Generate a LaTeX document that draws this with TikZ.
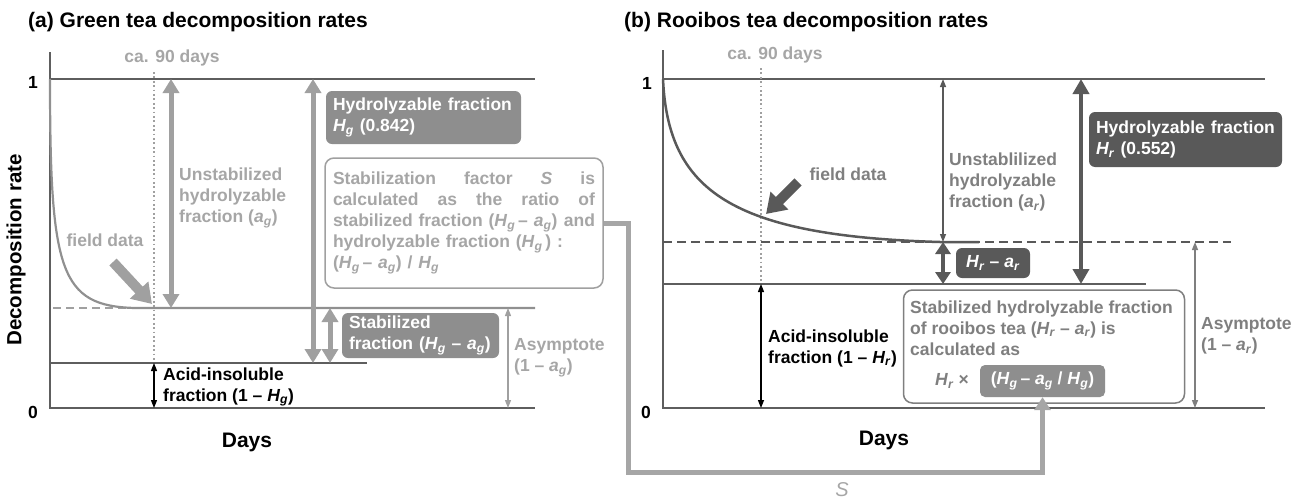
\documentclass[tikz,border=0pt]{standalone}
\usepackage{fontspec}
\setmainfont{Liberation Sans}
\usetikzlibrary{arrows.meta}

\definecolor{axisc}{HTML}{5E5E5E}
\definecolor{lgray}{HTML}{A0A0A0}
\definecolor{ltxt}{HTML}{A6A6A6}
\definecolor{boxA}{HTML}{8E8E8E}
\definecolor{dgray}{HTML}{595959}
\definecolor{mtxt}{HTML}{7F7F7F}

% italic variable with italic subscript
\newcommand{\iv}[2]{\textit{#1}\textsubscript{\textit{#2}}}
% one justified line of the stabilization-factor text
\newcommand{\jline}[1]{\leavevmode\hbox to 262pt{#1}}

\tikzset{
  lbl/.style={inner sep=0pt, font=\fontsize{17.5}{21}\selectfont\bfseries},
  bigl/.style={inner sep=0pt, font=\fontsize{21}{25}\selectfont\bfseries},
  axisline/.style={draw=axisc, line width=1.5pt},
  fbox/.style={lbl, rounded corners=6pt, text=white, align=left, inner xsep=7pt},
  obox/.style={lbl, draw=#1, line width=1.5pt, fill=white, rounded corners=9pt},
  thickL/.style={draw=lgray, line width=5pt,
    {Triangle[width=16pt,length=14pt]}-{Triangle[width=16pt,length=14pt]}},
  thickD/.style={draw=dgray, line width=4.5pt,
    {Triangle[width=16pt,length=15pt]}-{Triangle[width=16pt,length=15pt]}},
  thinA/.style={draw=#1, line width=1.3pt,
    {Triangle[width=6pt,length=8pt]}-{Triangle[width=6pt,length=8pt]}},
  blockarrow/.style={draw=#1, line width=10pt, -{Triangle[width=24pt,length=19pt]}},
  dottedv/.style={draw=lgray, line width=1.8pt, dash pattern=on 1.8pt off 2.6pt},
}

\begin{document}
\begin{tikzpicture}[x=1pt,y=-1pt]
\useasboundingbox (0,0) rectangle (1304,501);

% ================= (a) green tea =================
\node[bigl, anchor=west] (titleA) at (28,22) {(a) Green tea decomposition rates};
\node[bigl, rotate=90, font=\fontsize{20.5}{24}\selectfont\bfseries] (ylab) at (16,250) {Decomposition rate};
\node[lbl] (oneA) at (33,82) {1};
\node[lbl] (zeroA) at (33,412) {0};

% axes and reference levels
\draw[axisline] (50,52) -- (50,408) -- (535,408);
\draw[axisline] (50,79) -- (535,79);
\draw[axisline] (50,363) -- (367,363);
\draw[draw=lgray, line width=1.8pt, dash pattern=on 8pt off 5pt] (53,308) -- (535,308);

% decay curve
\draw[draw=lgray!90!black, line width=2.2pt] (50,79) .. controls (50,272) and (60,306) .. (135,308) -- (535,308);

% ca. 90 days
\node[lbl, text=ltxt] (caA) at (172,58) {ca. 90 days};
\coordinate (dotAt) at (154,72);
\coordinate (dotAb) at (154,361);
\draw[dottedv] (dotAt) -- (dotAb);

% field data
\node[lbl, text=ltxt] (fieldA) at (105,240) {field data};
\coordinate (fAs) at (113,262);
\coordinate (fAe) at (152,304);
\draw[blockarrow=lgray] (fAs) -- (fAe);

% unstabilized hydrolyzable fraction
\coordinate (uAt) at (171,79);
\coordinate (uAb) at (171,308);
\draw[thickL] (uAt) -- (uAb);
\node[lbl, text=ltxt, anchor=west, align=left] (unstabA) at (179,198)
  {Unstabilized\\hydrolyzable\\fraction (\iv{a}{g})};

% hydrolyzable fraction
\coordinate (hAt) at (313,79);
\coordinate (hAb) at (313,363);
\draw[thickL] (hAt) -- (hAb);
\node[fbox, fill=boxA, minimum width=195pt, minimum height=53pt, text width=181pt] (hydA) at (423.5,117.5)
  {Hydrolyzable fraction\\\iv{H}{g} (0.842)};

% stabilized fraction
\coordinate (sAt) at (330,308);
\coordinate (sAb) at (330,363);
\draw[thickL] (sAt) -- (sAb);
\node[fbox, fill=boxA, minimum width=157pt, minimum height=45pt, text width=143pt, inner xsep=7pt] (stabA) at (420.5,335.5)
  {Stabilized\\fraction (\iv{H}{g} – \iv{a}{g})};

% stabilization factor box
\node[obox=lgray, text=ltxt, minimum width=278pt, minimum height=130pt, text width=262pt, inner xsep=8pt, align=left] (stabF) at (464,223)
  {\jline{Stabilization\hfill factor\hfill \textit{S}\hfill is}\\
   \jline{calculated\hfill as\hfill the\hfill ratio\hfill of}\\
   \jline{stabilized fraction (\iv{H}{g}\,– \iv{a}{g})\hfill and}\\
   hydrolyzable fraction (\iv{H}{g}\,) :\\
   (\iv{H}{g}\,– \iv{a}{g}) / \iv{H}{g}};

% asymptote
\coordinate (asAt) at (508,308);
\coordinate (asAb) at (508,408);
\draw[thinA=lgray] (asAt) -- (asAb);
\node[lbl, text=ltxt, anchor=west, align=left] (asymA) at (514,358) {Asymptote\\(1 – \iv{a}{g})};

% acid-insoluble fraction
\coordinate (acAt) at (154,363);
\coordinate (acAb) at (154,408);
\draw[thinA=black] (acAt) -- (acAb);
\node[lbl, anchor=west, align=left] (acidA) at (163,387) {Acid-insoluble\\fraction (1 – \iv{H}{g})};

\node[bigl] (daysA) at (247,442) {Days};

% ================= (b) rooibos tea =================
\node[bigl, anchor=west] (titleB) at (624,22) {(b) Rooibos tea decomposition rates};
\node[lbl] (oneB) at (647,83) {1};
\node[lbl] (zeroB) at (646,412) {0};

\draw[axisline] (663,50) -- (663,408) -- (1265,408);
\draw[axisline] (663,79) -- (1265,79);
\draw[axisline] (663,284) -- (1146,284);
\draw[draw=dgray, line width=2.2pt, dash pattern=on 9pt off 5pt] (663,242) -- (1231,242);

% decay curve
\draw[draw=dgray, line width=2.5pt] (663,79) .. controls (668,190) and (730,236) .. (940,242) -- (979,242);

% ca. 90 days
\node[lbl, text=ltxt] (caB) at (775,55) {ca. 90 days};
\coordinate (dotBt) at (761,68);
\coordinate (dotBb) at (761,282);
\draw[dottedv] (dotBt) -- (dotBb);

% field data
\node[lbl, text=mtxt] (fieldB) at (848,174) {field data};
\coordinate (fBs) at (798,182);
\coordinate (fBe) at (766,214);
\draw[blockarrow=dgray] (fBs) -- (fBe);

% unstabilized hydrolyzable fraction
\coordinate (uBt) at (943,79);
\coordinate (uBb) at (943,242);
\draw[thinA=dgray] (uBt) -- (uBb);
\node[lbl, text=mtxt, anchor=west, align=left] (unstabB) at (949,182)
  {Unstablilized\\hydrolyzable\\fraction (\iv{a}{r})};

% hydrolyzable fraction
\coordinate (hBt) at (1081,79);
\coordinate (hBb) at (1081,284);
\draw[thickD] (hBt) -- (hBb);
\node[fbox, fill=dgray, minimum width=193pt, minimum height=55pt, text width=179pt] (hydB) at (1185.5,139.5)
  {Hydrolyzable fraction\\\iv{H}{r} (0.552)};

% stabilized fraction of rooibos
\coordinate (hrBt) at (943,242);
\coordinate (hrBb) at (943,284);
\draw[thickD, {Triangle[width=15pt,length=12pt]}-{Triangle[width=15pt,length=12pt]}] (hrBt) -- (hrBb);
\node[fbox, fill=dgray, minimum width=74pt, minimum height=30pt, align=center, inner xsep=4pt] (hrar) at (993,263)
  {\iv{H}{r} – \iv{a}{r}};

% acid-insoluble fraction
\coordinate (acBt) at (761,284);
\coordinate (acBb) at (761,408);
\draw[thinA=black] (acBt) -- (acBb);
\node[lbl, anchor=west, align=left] (acidB) at (768,348) {Acid-insoluble\\fraction (1 – \iv{H}{r})};

% stabilized hydrolyzable fraction box
\node[obox=mtxt, minimum width=281pt, minimum height=113pt] (stabB) at (1044,346.5) {};
\node[lbl, text=mtxt, anchor=west, align=left] (stabBtxt) at (910,328)
  {Stabilized hydrolyzable fraction\\of rooibos tea (\iv{H}{r} – \iv{a}{r}) is\\calculated as};
\node[lbl, text=mtxt] (hrtimes) at (952,381) {\iv{H}{r} ×};
\node[fbox, fill=boxA, minimum width=125pt, minimum height=32pt, align=center, rounded corners=5pt] (factor) at (1042.5,381)
  {(\iv{H}{g}\,– \iv{a}{g} / \iv{H}{g})};

% asymptote
\coordinate (asBt) at (1195,242);
\coordinate (asBb) at (1195,408);
\draw[thinA=mtxt] (asBt) -- (asBb);
\node[lbl, text=mtxt, anchor=west, align=left] (asymB) at (1201,336) {Asymptote\\(1 – \iv{a}{r})};

\node[bigl] (daysB) at (884,440) {Days};

% ================= transfer of S =================
\coordinate (sturn) at (628,472);
\draw[draw=ltxt, line width=5pt, -{Triangle[width=16pt,length=13pt]}] (stabF.east) -| (sturn) -| (factor.south);
\node[bigl, font=\fontsize{20}{24}\selectfont\itshape, text=ltxt] (sLabel) at (842,490) {S};

\end{tikzpicture}
\end{document}
